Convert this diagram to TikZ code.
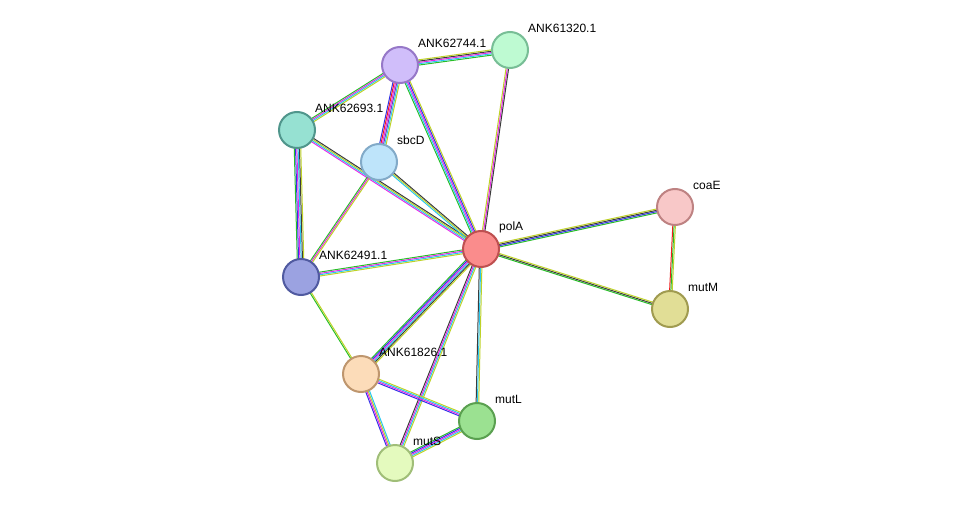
\documentclass[tikz,border=0pt]{standalone}
\usepackage{fontspec}
\setmainfont{Liberation Sans}
\usetikzlibrary{calc}
\definecolor{eg}{RGB}{40,190,40}
\definecolor{ey}{RGB}{190,210,40}
\definecolor{em}{RGB}{230,40,230}
\definecolor{ec}{RGB}{40,200,240}
\definecolor{eb}{RGB}{50,50,230}
\definecolor{ek}{RGB}{60,60,60}
\definecolor{er}{RGB}{240,30,30}
\definecolor{ep}{RGB}{120,60,180}
\tikzset{prot/.style={circle,draw,line width=2pt,minimum size=36pt,inner sep=0pt},
lab/.style={anchor=west,font=\fontsize{12}{14}\selectfont,inner sep=0pt}}
\newcommand{\edge}[3]{%
\foreach \c [count=\i] in {#3} {\xdef\n{\i}}%
\pgfmathsetmacro{\half}{1.3*(\n-1)/2}%
\foreach \c [count=\i] in {#3} {\pgfmathsetmacro{\o}{1.3*(\i-1)-\half}%
\draw[draw=\c,line width=1pt] ($(#1)!\o pt!90:(#2)$) -- ($(#2)!\o pt!-90:(#1)$);}}
\begin{document}
\begin{tikzpicture}[x=1pt,y=-1pt]
\useasboundingbox (0,0) rectangle (976,508);
\coordinate (a44) at (400,65);
\coordinate (a20) at (510,50);
\coordinate (a93) at (297,130);
\coordinate (sb) at (379,162);
\coordinate (pa) at (481,249);
\coordinate (ce) at (675,207);
\coordinate (a91) at (301,277);
\coordinate (mm) at (670,309);
\coordinate (a26) at (361,374);
\coordinate (ml) at (477,421);
\coordinate (ms) at (395,463);
\edge{a44}{a20}{eg,ec,em,ek,ey}
\edge{a44}{a93}{eg,em,ec,ey}
\edge{a44}{sb}{eb,er,em,ep,ec,ey}
\edge{a44}{pa}{eg,ec,em,eb,ey}
\edge{a20}{pa}{ey,em,ek}
\edge{a93}{pa}{em,ec,ey,ek}
\edge{a93}{a91}{eg,eb,em,ec,ek,ey}
\edge{sb}{pa}{ec,ey,ek}
\edge{sb}{a91}{eg,em,ey}
\edge{pa}{ce}{eg,eb,ek,ey}
\edge{pa}{mm}{eg,ek,ey}
\edge{ce}{mm}{er,eg,ey}
\edge{pa}{a91}{eg,em,ec,ey}
\edge{pa}{a26}{eg,eb,em,ec,ek,ey}
\edge{pa}{ml}{ek,ec,ey}
\edge{pa}{ms}{ek,em,ec,ey}
\edge{a91}{a26}{eg,ey}
\edge{a26}{ml}{eb,em,ec,ey}
\edge{a26}{ms}{eb,em,ey,ec}
\edge{ml}{ms}{eg,eb,em,ec,ey}
\node[prot,fill={rgb,255:red,208;green,190;blue,250},draw={rgb,255:red,150;green,120;blue,200}] (n44) at (a44) {};
\node[prot,fill={rgb,255:red,190;green,250;blue,210},draw={rgb,255:red,120;green,190;blue,150}] (n20) at (a20) {};
\node[prot,fill={rgb,255:red,150;green,225;blue,210},draw={rgb,255:red,80;green,150;blue,140}] (n93) at (a93) {};
\node[prot,fill={rgb,255:red,190;green,228;blue,250},draw={rgb,255:red,130;green,170;blue,200}] (nsb) at (sb) {};
\node[prot,fill={rgb,255:red,250;green,140;blue,140},draw={rgb,255:red,190;green,80;blue,80}] (npa) at (pa) {};
\node[prot,fill={rgb,255:red,248;green,200;blue,200},draw={rgb,255:red,190;green,130;blue,130}] (nce) at (ce) {};
\node[prot,fill={rgb,255:red,155;green,162;blue,225},draw={rgb,255:red,80;green,90;blue,160}] (n91) at (a91) {};
\node[prot,fill={rgb,255:red,225;green,222;blue,150},draw={rgb,255:red,160;green,155;blue,80}] (nmm) at (mm) {};
\node[prot,fill={rgb,255:red,252;green,220;blue,185},draw={rgb,255:red,190;green,150;blue,110}] (n26) at (a26) {};
\node[prot,fill={rgb,255:red,155;green,225;blue,145},draw={rgb,255:red,90;green,160;blue,80}] (nml) at (ml) {};
\node[prot,fill={rgb,255:red,228;green,250;blue,190},draw={rgb,255:red,160;green,190;blue,120}] (nms) at (ms) {};
\node[lab] (l44) at ($(a44)+(18,-22)$) {ANK62744.1};
\node[lab] (l20) at ($(a20)+(18,-22)$) {ANK61320.1};
\node[lab] (l93) at ($(a93)+(18,-22)$) {ANK62693.1};
\node[lab] (lsb) at ($(sb)+(18,-22)$) {sbcD};
\node[lab] (lpa) at ($(pa)+(18,-22)$) {polA};
\node[lab] (lce) at ($(ce)+(18,-22)$) {coaE};
\node[lab] (l91) at ($(a91)+(18,-22)$) {ANK62491.1};
\node[lab] (lmm) at ($(mm)+(18,-22)$) {mutM};
\node[lab] (l26) at ($(a26)+(18,-22)$) {ANK61826.1};
\node[lab] (lml) at ($(ml)+(18,-22)$) {mutL};
\node[lab] (lms) at ($(ms)+(18,-22)$) {mutS};
\end{tikzpicture}
\end{document}
